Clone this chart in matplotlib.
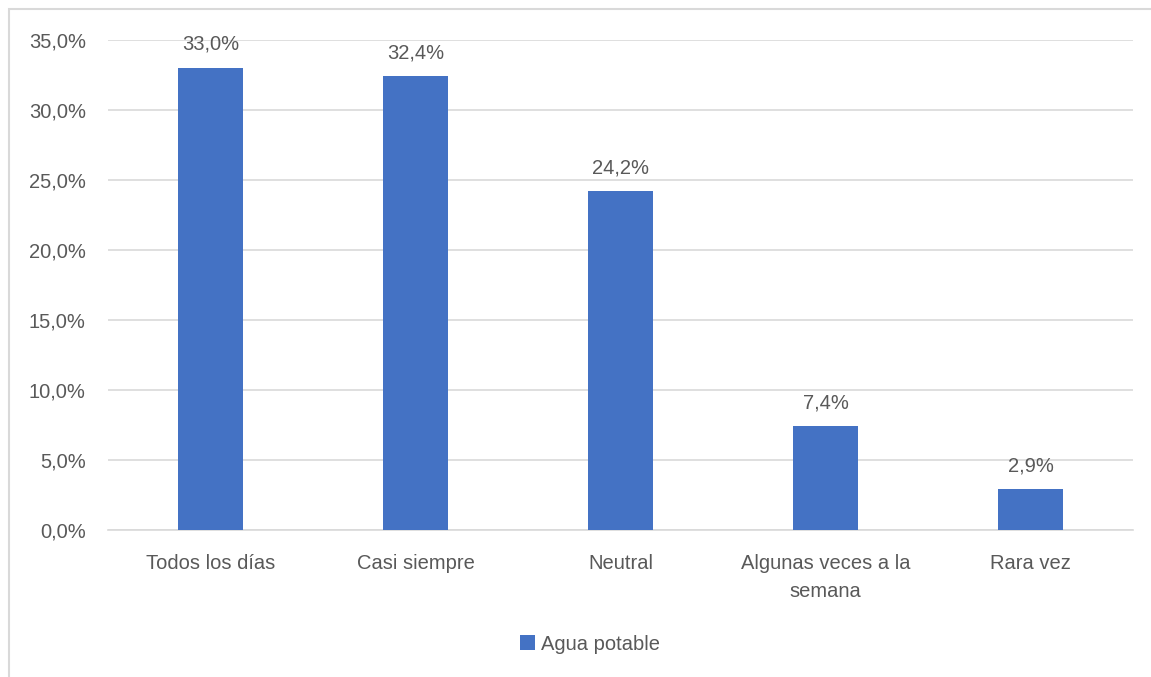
import matplotlib.pyplot as plt
from matplotlib.patches import Rectangle
from matplotlib.ticker import FuncFormatter, MultipleLocator

# datos
categorias = ["Todos los días", "Casi siempre", "Neutral", "Algunas veces a la\nsemana", "Rara vez"]
valores = [33.0, 32.4, 24.2, 7.4, 2.9]
serie = "Agua potable"

plt.rcParams['font.family'] = ['Liberation Sans', 'DejaVu Sans']
texto = '#595959'
azul = '#4472C4'

fig = plt.figure(figsize=(11.51, 6.77), dpi=100)
ax = fig.add_axes([108 / 1151, 1 - 530 / 677, (1133 - 108) / 1151, 490 / 677])

# marco del gráfico (solo se ve arriba e izquierda)
fig.patches.append(Rectangle((9 / 1151, -0.1), 1.2, 1 - 9 / 677 + 0.1,
                             transform=fig.transFigure, fill=False,
                             edgecolor='#d9d9d9', linewidth=1.5))

x = range(len(categorias))
barras = ax.bar(x, valores, width=0.315, color=azul, label=serie, zorder=3)

for xi, v in zip(x, valores):
    ax.text(xi, v + 1.0, f"{v:.1f}%".replace('.', ','), ha='center', va='bottom',
            fontsize=14.5, color=texto)

ax.set_xlim(-0.5, len(categorias) - 0.5)
ax.set_ylim(0, 35)
ax.yaxis.set_major_locator(MultipleLocator(5))
ax.yaxis.set_major_formatter(FuncFormatter(lambda v, p: f"{v:.1f}%".replace('.', ',')))
ax.grid(axis='y', color='#d9d9d9', linewidth=1.2, zorder=0)

ax.set_xticks(list(x))
ax.set_xticklabels(categorias, fontsize=14.5, color=texto, linespacing=1.6)
ax.tick_params(axis='y', labelsize=14.5, labelcolor=texto, length=0, pad=16)
ax.tick_params(axis='x', length=0, pad=17)

for s in ['top', 'right', 'left']:
    ax.spines[s].set_visible(False)
ax.spines['bottom'].set_color('#d9d9d9')
ax.spines['bottom'].set_linewidth(1.2)

fig.legend(handles=[barras], labels=[serie], loc='center', bbox_to_anchor=(590 / 1151, 1 - 644 / 677),
           frameon=False, fontsize=14.5, labelcolor=texto, handlelength=0.7, handleheight=0.7,
           handletextpad=0.3)

fig.savefig('out.png', dpi=100)
